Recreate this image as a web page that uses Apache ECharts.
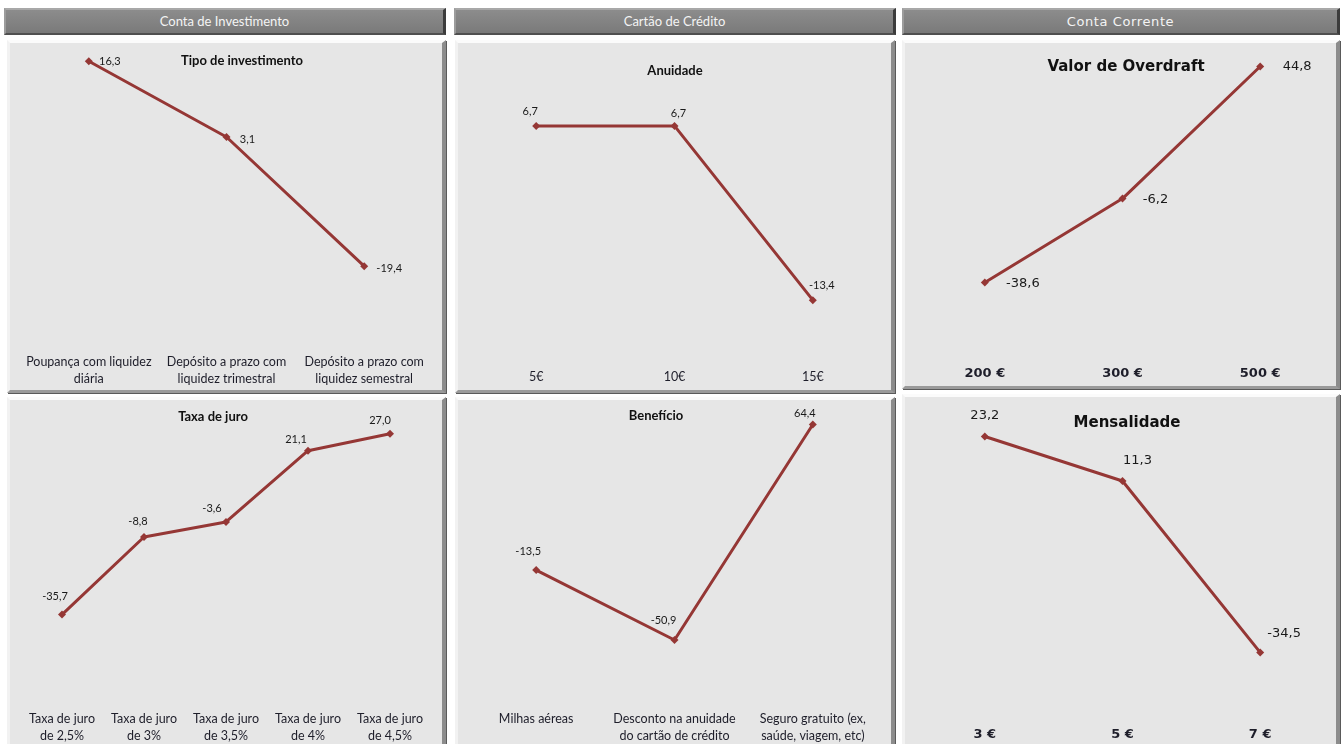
<!DOCTYPE html>
<html>
<head>
<meta charset="utf-8">
<script src="https://cdn.jsdelivr.net/npm/echarts@6/dist/echarts.min.js"></script>
<style>
body{margin:0;width:1344px;height:744px;overflow:hidden;background:#fff;position:relative;font-family:Lato,sans-serif}
.hdr{position:absolute;top:8px;height:27px;box-sizing:border-box;background:linear-gradient(#8c8c8c,#7a7a7a);border-top:2px solid #a8a8a8;border-left:2px solid #9c9c9c;border-right:3px solid #3c3c3c;border-bottom:2px solid #505050;color:#f4f4f4;font-size:13px;text-align:center;line-height:23px}
.pnl{position:absolute;box-sizing:border-box;background:#e6e6e6;border-top:3px solid #fbfbfb;border-left:3px solid #f2f2f2;border-right:4px solid #8c8c8c;border-bottom:3px solid #9a9a9a;box-shadow:1px 1px 0 #5a5a5a}
.ch{position:absolute}
</style>
</head>
<body>
<div class="hdr" style="left:4px;width:442px">Conta de Investimento</div>
<div class="hdr" style="left:454px;width:442px">Cartão de Crédito</div>
<div class="hdr" style="left:902px;width:438px;font-family:'DejaVu Sans';font-size:13px;letter-spacing:0.6px">Conta Corrente</div>

<div class="pnl" style="left:7px;top:40px;width:439px;height:353px"></div>
<div class="pnl" style="left:455px;top:40px;width:440px;height:353px"></div>
<div class="pnl" style="left:902px;top:40px;width:438px;height:349px"></div>
<div class="pnl" style="left:7px;top:397px;width:439px;height:353px"></div>
<div class="pnl" style="left:455px;top:397px;width:440px;height:353px"></div>
<div class="pnl" style="left:902px;top:394px;width:438px;height:356px"></div>

<div id="c1" class="ch" style="left:7px;top:40px;width:439px;height:353px"></div>
<div id="c2" class="ch" style="left:455px;top:40px;width:440px;height:353px"></div>
<div id="c3" class="ch" style="left:902px;top:40px;width:438px;height:349px"></div>
<div id="c4" class="ch" style="left:7px;top:397px;width:439px;height:353px"></div>
<div id="c5" class="ch" style="left:455px;top:397px;width:440px;height:353px"></div>
<div id="c6" class="ch" style="left:902px;top:394px;width:438px;height:356px"></div>

<script>
// data
var tipoCats = ['Poupança com liquidez\ndiária', 'Depósito a prazo com\nliquidez trimestral', 'Depósito a prazo com\nliquidez semestral'];
var tipoVals = [16.3, 3.1, -19.4];

var anuidadeCats = ['5€', '10€', '15€'];
var anuidadeVals = [6.7, 6.7, -13.4];

var overdraftCats = ['200 €', '300 €', '500 €'];
var overdraftVals = [-38.6, -6.2, 44.8];

var juroCats = ['Taxa de juro\nde 2,5%', 'Taxa de juro\nde 3%', 'Taxa de juro\nde 3,5%', 'Taxa de juro\nde 4%', 'Taxa de juro\nde 4,5%'];
var juroVals = [-35.7, -8.8, -3.6, 21.1, 27.0];

var beneficioCats = ['Milhas aéreas', 'Desconto na anuidade\ndo cartão de crédito', 'Seguro gratuito (ex,\nsaúde, viagem, etc)'];
var beneficioVals = [-13.5, -50.9, 64.4];

var mensalCats = ['3 €', '5 €', '7 €'];
var mensalVals = [23.2, 11.3, -34.5];

var LINE = '#953735';

function fmt(v) { return v.toFixed(1).replace('.', ','); }

function makeChart(id, c) {
    var chart = echarts.init(document.getElementById(id));
    var data = c.vals.map(function (v, i) {
        return {
            value: v,
            label: { offset: c.shift[i] }
        };
    });
    chart.setOption({
        animation: false,
        title: {
            text: c.title,
            left: c.tx, top: c.ty,
            textAlign: 'center',
            textStyle: { fontFamily: c.font, fontSize: c.titleSize, fontWeight: 'bold', color: '#111' }
        },
        grid: c.grid,
        xAxis: {
            type: 'category',
            data: c.cats,
            axisLine: { show: false, onZero: false },
            axisTick: { show: false },
            splitLine: { show: false },
            axisLabel: {
                margin: c.margin, interval: 0,
                fontFamily: c.font, fontSize: c.catSize, fontWeight: c.catWeight || 'normal',
                color: '#1e1e2a', lineHeight: 17
            }
        },
        yAxis: {
            type: 'value', min: c.min, max: c.max, show: false,
            splitLine: { show: false }
        },
        series: [{
            type: 'line',
            data: data,
            symbol: 'diamond',
            symbolSize: 8,
            itemStyle: { color: LINE },
            lineStyle: { color: LINE, width: 3 },
            label: {
                show: true, position: 'inside',
                align: 'center', verticalAlign: 'middle',
                fontFamily: c.font, fontSize: c.labSize, color: '#1a1a1a',
                formatter: function (p) { return fmt(p.value); }
            }
        }]
    });
}

makeChart('c1', {
    title: 'Tipo de investimento', tx: 230, ty: 9, titleSize: 13, font: 'Lato',
    cats: tipoCats, vals: tipoVals, min: -30, max: 20,
    grid: { left: 13, right: 13, top: 0, bottom: 66 }, margin: 26, catSize: 12.5, labSize: 11,
    shift: [[21, 0], [21, 2], [25, 2]]
});
makeChart('c2', {
    title: 'Anuidade', tx: 215, ty: 19, titleSize: 13, font: 'Lato',
    cats: anuidadeCats, vals: anuidadeVals, min: -15, max: 15,
    grid: { left: 12, right: 13, top: 14, bottom: 79 }, margin: 54, catSize: 12.5, labSize: 11,
    shift: [[-6, -14], [4, -12], [9, -15]]
});
makeChart('c3', {
    title: 'Valor de Overdraft', tx: 219, ty: 15, titleSize: 15, font: 'DejaVu Sans',
    cats: overdraftCats, vals: overdraftVals, min: -50, max: 50,
    grid: { left: 14, right: 11, top: 13, bottom: 77 }, margin: 53, catSize: 13, catWeight: 'bold', labSize: 13,
    shift: [[38, 1], [33, 1], [37, 0]]
});
makeChart('c4', {
    title: 'Taxa de juro', tx: 201, ty: 8, titleSize: 13, font: 'Lato',
    cats: juroCats, vals: juroVals, min: -40, max: 30,
    grid: { left: 14, right: 15, top: 28, bottom: 123 }, margin: 83, catSize: 12.5, labSize: 11,
    shift: [[-7, -18], [-6, -16], [-14, -14], [-12, -11], [-10, -13]]
});
makeChart('c5', {
    title: 'Benefício', tx: 196, ty: 7, titleSize: 13, font: 'Lato',
    cats: beneficioCats, vals: beneficioVals, min: -60, max: 70,
    grid: { left: 12, right: 13, top: 17, bottom: 93 }, margin: 53, catSize: 12.5, labSize: 11,
    shift: [[-8, -19], [-11, -20], [-8, -11]]
});
makeChart('c6', {
    title: 'Mensalidade', tx: 220, ty: 17, titleSize: 15, font: 'DejaVu Sans',
    cats: mensalCats, vals: mensalVals, min: -40, max: 30,
    grid: { left: 14, right: 11, top: 17, bottom: 77 }, margin: 53, catSize: 13, catWeight: 'bold', labSize: 13,
    shift: [[0, -21], [15, -20], [24, -19]]
});
</script>
</body>
</html>
